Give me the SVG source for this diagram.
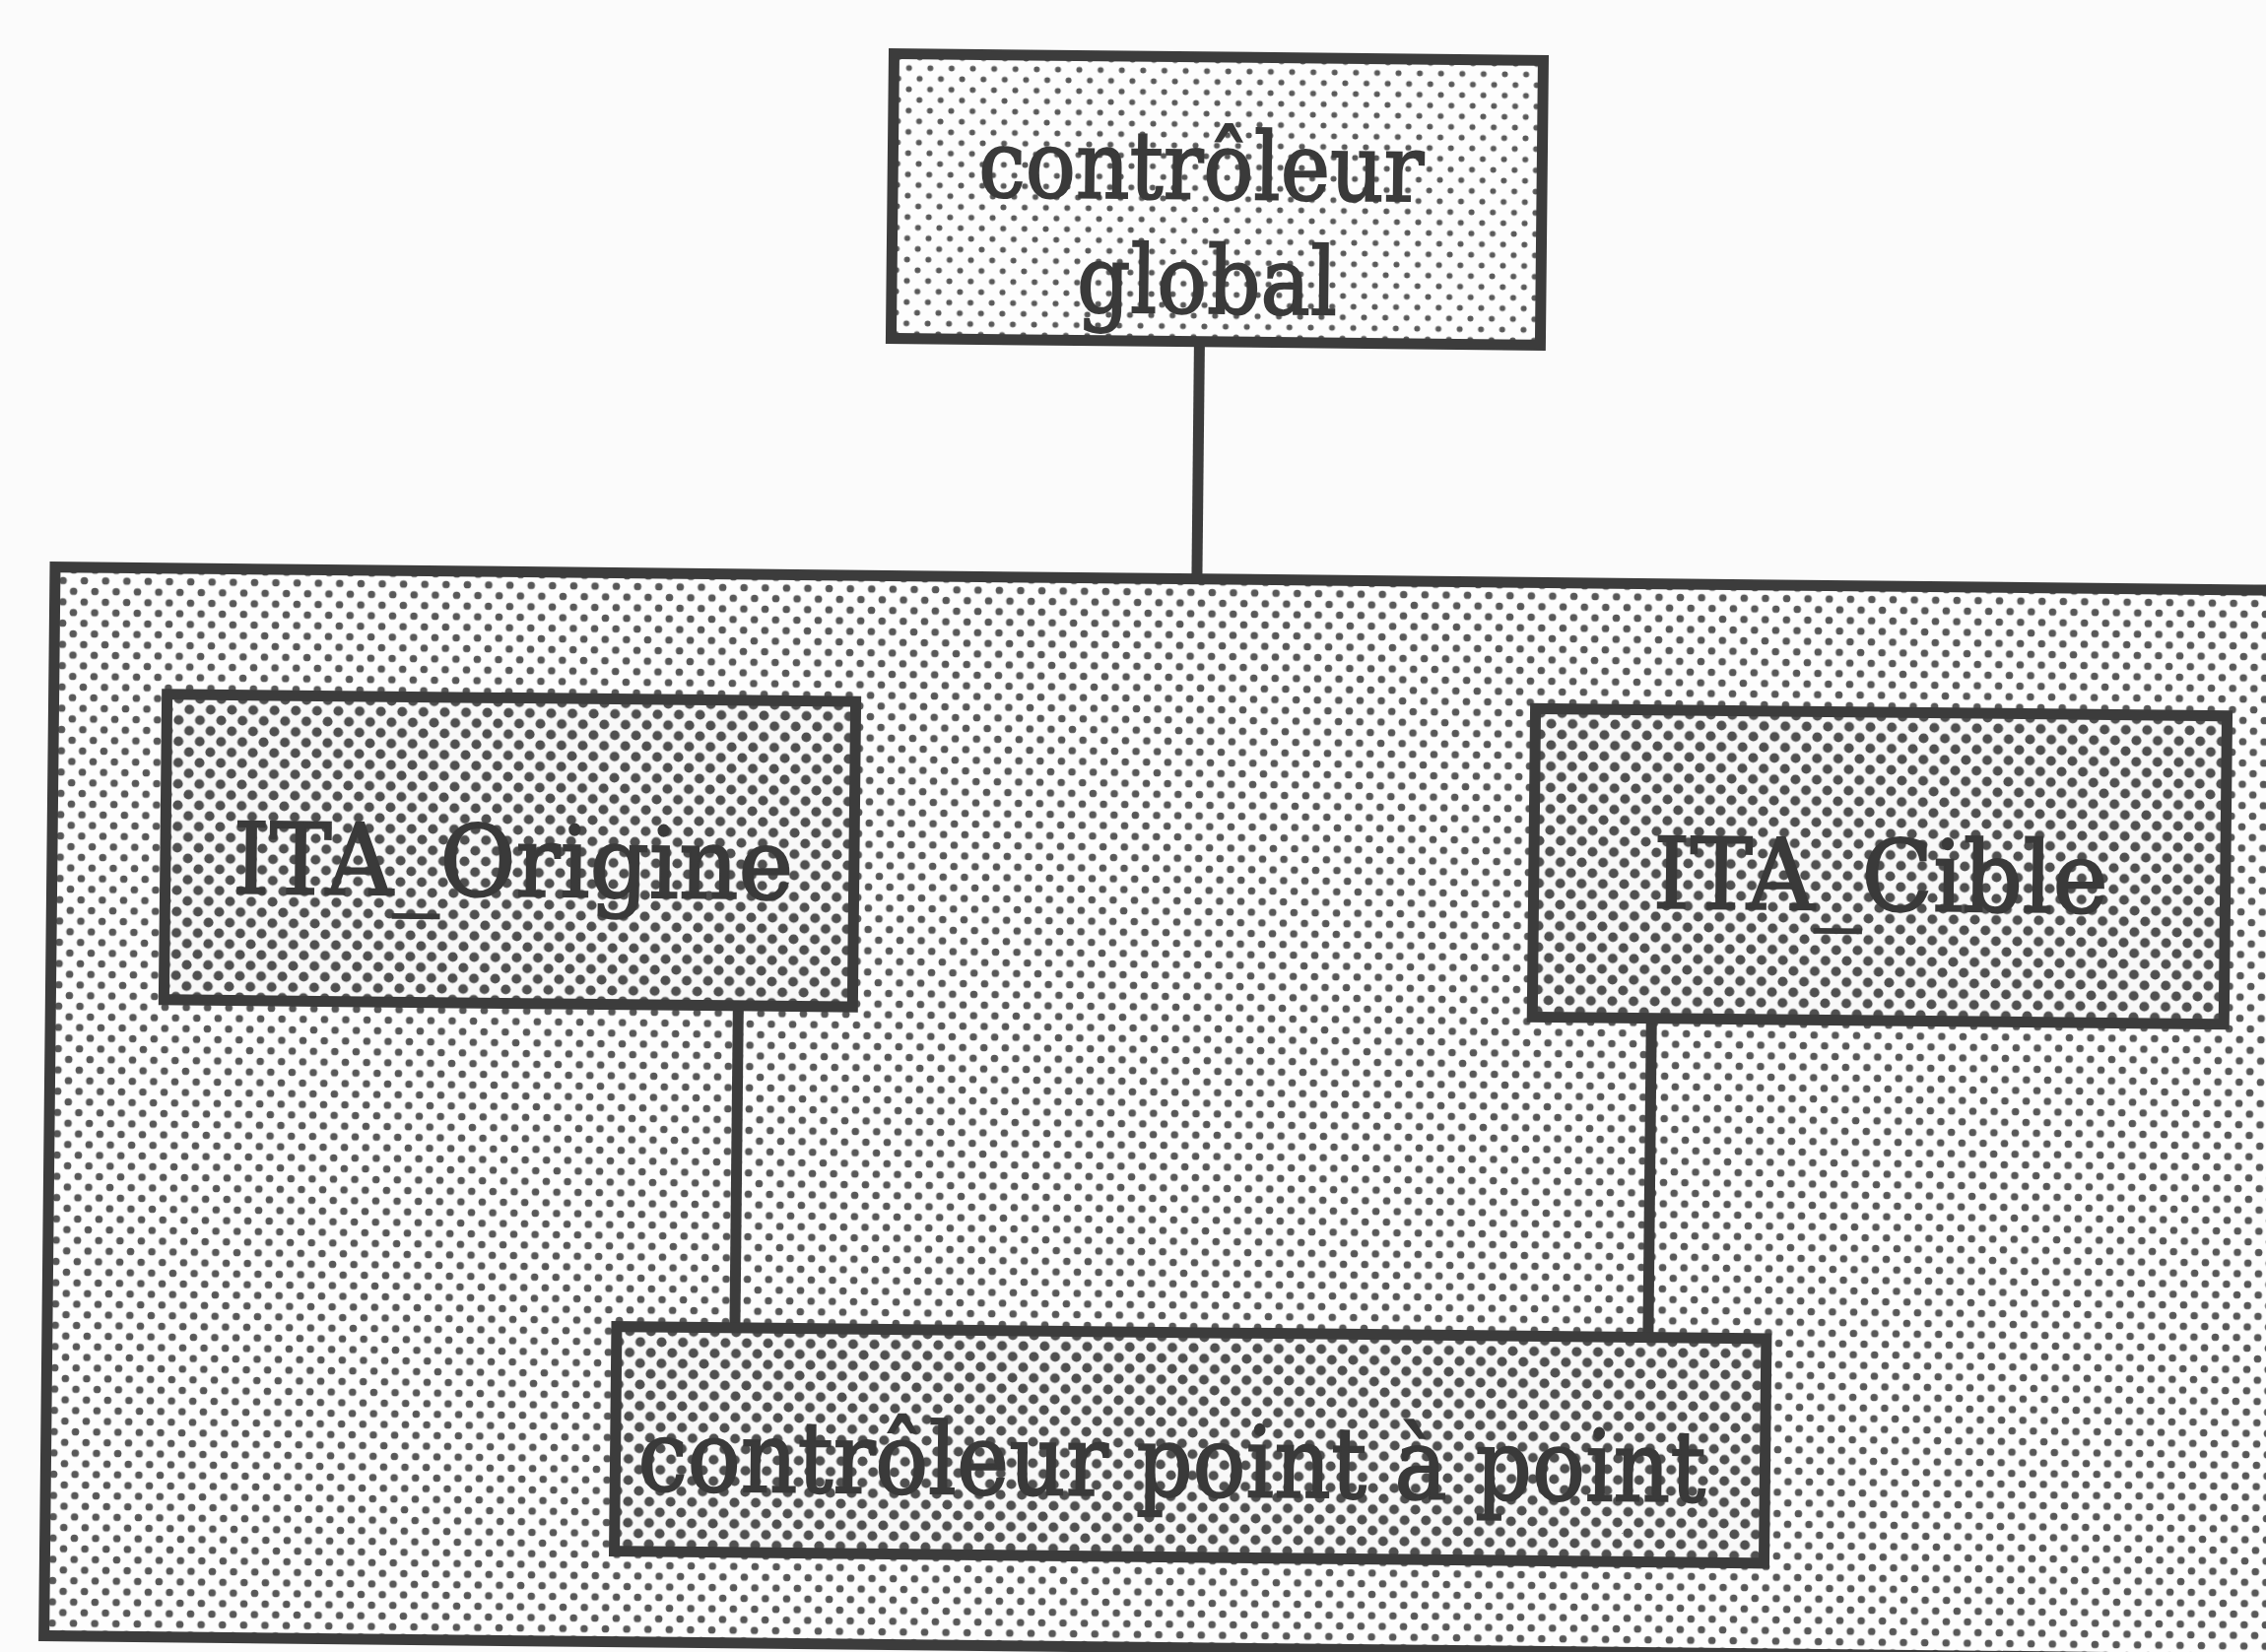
<svg xmlns="http://www.w3.org/2000/svg" width="2300" height="1677" viewBox="0 0 2300 1677">
  <defs>
    <!-- halftone screens: same grid, dot size sets the tone -->
    <pattern id="screenLight" patternUnits="userSpaceOnUse" width="21.6" height="21.6">
      <rect width="21.6" height="21.6" fill="#fdfdfd"/>
      <circle cx="5.4" cy="5.4" r="3.0" fill="#5a5a5a"/>
      <circle cx="16.2" cy="16.2" r="3.0" fill="#5a5a5a"/>
    </pattern>
    <pattern id="screenMid" patternUnits="userSpaceOnUse" width="21.6" height="21.6">
      <rect width="21.6" height="21.6" fill="#fdfdfd"/>
      <circle cx="5.4" cy="5.4" r="3.8" fill="#585858"/>
      <circle cx="16.2" cy="16.2" r="3.8" fill="#585858"/>
    </pattern>
    <pattern id="screenDark" patternUnits="userSpaceOnUse" width="21.6" height="21.6">
      <rect width="21.6" height="21.6" fill="#f8f8f8"/>
      <circle cx="5.4" cy="5.4" r="5.0" fill="#505050"/>
      <circle cx="16.2" cy="16.2" r="5.0" fill="#505050"/>
    </pattern>
  </defs>
  <style>
    .box { stroke: #3c3c3c; stroke-width: 11; }
    .link { stroke: #3c3c3c; stroke-width: 11; fill: none; }
    .label { font-family: "DejaVu Serif", "Liberation Serif", serif; font-size: 100px; fill: #3a3a3a; stroke: #3a3a3a; stroke-width: 2; text-anchor: middle; }
    .label.top { font-size: 95px; }
  </style>

  <rect width="2300" height="1677" fill="#fbfbfb"/>

  <!-- the whole figure sits slightly tilted on the page -->
  <g transform="rotate(0.6)">
    <g id="systeme">
      <rect class="box" x="62" y="575" width="2300" height="1085" fill="url(#screenMid)"/>
    </g>

    <g id="connectors">
      <line class="link" x1="1221" y1="334" x2="1221" y2="575"/>
      <line class="link" x1="760" y1="1013" x2="760" y2="1340"/>
      <line class="link" x1="1687" y1="1016" x2="1687" y2="1340"/>
    </g>

    <g id="controleur-global">
      <rect class="box" x="908" y="45" width="659" height="289" fill="url(#screenLight)"/>
      <text class="label top" x="1221" y="189" textLength="452" lengthAdjust="spacingAndGlyphs">contrôleur</text>
      <text class="label top" x="1228" y="305" textLength="264" lengthAdjust="spacingAndGlyphs">global</text>
    </g>

    <g id="ita-origine">
      <rect class="box" x="177" y="703" width="699" height="310" fill="url(#screenDark)"/>
      <text class="label" x="530" y="904" textLength="569" lengthAdjust="spacingAndGlyphs">ITA_Origine</text>
    </g>

    <g id="ita-cible">
      <rect class="box" x="1566" y="703" width="702" height="313" fill="url(#screenDark)"/>
      <text class="label" x="1918" y="904" textLength="462" lengthAdjust="spacingAndGlyphs">ITA_Cible</text>
    </g>

    <g id="controleur-point-a-point">
      <rect class="box" x="640" y="1340" width="1167" height="228" fill="url(#screenDark)"/>
      <text class="label" x="1205" y="1506" textLength="1084" lengthAdjust="spacingAndGlyphs">contrôleur point à point</text>
    </g>
  </g>
</svg>
